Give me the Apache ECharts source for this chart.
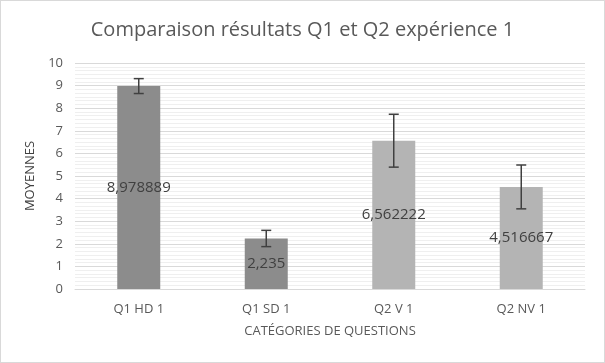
<!DOCTYPE html>
<html><head><meta charset="utf-8">
<script src="https://cdn.jsdelivr.net/npm/echarts@6/dist/echarts.min.js"></script>
<style>html,body{margin:0;padding:0;background:#fff}#c{width:605px;height:363px;box-sizing:border-box;border:1px solid #d9d9d9}</style>
</head><body><div id="c"></div>
<script>
const categories = ['Q1 HD 1', 'Q1 SD 1', 'Q2 V 1', 'Q2 NV 1'];
const means = [8.978889, 2.235, 6.562222, 4.516667];
const labels = ['8,978889', '2,235', '6,562222', '4,516667'];
const errors = [0.33, 0.36, 1.17, 0.97];
const barColors = ['#8c8c8c', '#8c8c8c', '#b4b4b4', '#b4b4b4'];
const yTicks = [0, 1, 2, 3, 4, 5, 6, 7, 8, 9, 10];

const chart = echarts.init(document.getElementById('c'));
const font = 'Open Sans, Noto Sans, sans-serif';
chart.setOption({
  animation: false,
  title: { text: 'Comparaison résultats Q1 et Q2 expérience 1', left: 'center', top: 14,
    textStyle: { fontFamily: font, fontSize: 20, fontWeight: 'normal', color: '#595959' } },
  grid: { left: 74, right: 19, top: 62, bottom: 73 },
  xAxis: { type: 'category', data: categories,
    axisLine: { lineStyle: { color: '#d9d9d9' } }, axisTick: { show: false },
    axisLabel: { color: '#595959', fontFamily: font, fontSize: 13, margin: 14 },
    name: 'CATÉGORIES DE QUESTIONS', nameLocation: 'middle', nameGap: 36,
    nameTextStyle: { color: '#595959', fontFamily: font, fontSize: 13 } },
  yAxis: { type: 'value', min: yTicks[0], max: yTicks[yTicks.length - 1], interval: 1,
    axisLine: { show: false }, axisTick: { show: false },
    axisLabel: { color: '#595959', fontFamily: font, fontSize: 13, margin: 12 },
    splitLine: { lineStyle: { color: '#d9d9d9', width: 1 } },
    minorTick: { show: false, splitNumber: 6 },
    minorSplitLine: { show: true, lineStyle: { color: '#efefef', width: 1 } },
    name: 'MOYENNES', nameLocation: 'middle', nameGap: 36, nameRotate: 90,
    nameTextStyle: { color: '#404040', fontFamily: font, fontSize: 13 } },
  series: [
    { type: 'bar', barWidth: 43,
      data: means.map((v, i) => ({ value: v, itemStyle: { color: barColors[i] } })),
      label: { show: true, position: 'inside', color: '#404040', fontFamily: font, fontSize: 15,
        formatter: p => labels[p.dataIndex] } },
    { type: 'custom', z: 10,
      data: means.map((v, i) => [i, v - errors[i], v + errors[i]]),
      renderItem: (params, api) => {
        const lo = api.coord([api.value(0), api.value(1)]);
        const hi = api.coord([api.value(0), api.value(2)]);
        const w = 5;
        const st = { stroke: '#404040', lineWidth: 1.5 };
        return { type: 'group', children: [
          { type: 'line', shape: { x1: hi[0], y1: hi[1], x2: lo[0], y2: lo[1] }, style: st },
          { type: 'line', shape: { x1: hi[0] - w, y1: hi[1], x2: hi[0] + w, y2: hi[1] }, style: st },
          { type: 'line', shape: { x1: lo[0] - w, y1: lo[1], x2: lo[0] + w, y2: lo[1] }, style: st }
        ] };
      } }
  ]
});
</script></body></html>
